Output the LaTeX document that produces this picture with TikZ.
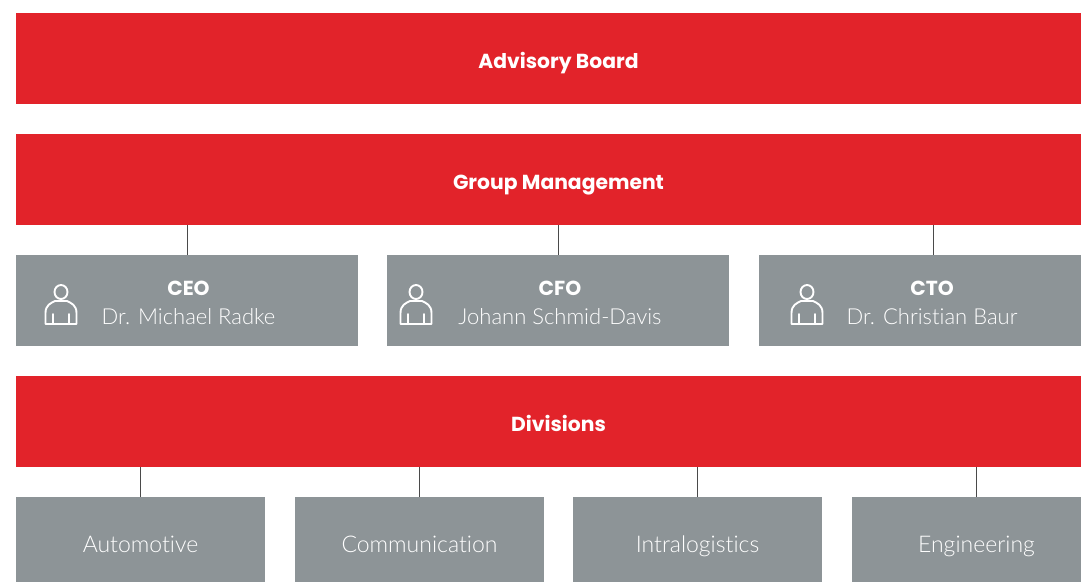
\documentclass[tikz,border=0pt]{standalone}
\usepackage{fontspec}
\setmainfont{Lato Light}[BoldFont={Lato},Ligatures=NoCommon]
\newfontfamily\headfont{Poppins}
\definecolor{redbar}{HTML}{E2232A}
\definecolor{greybox}{HTML}{8D9497}
\definecolor{linkcol}{HTML}{4A4A4A}
\tikzset{
  x=1pt,y=-1pt,
  redbar/.style={fill=redbar,text=white,minimum width=1085pt,minimum height=91pt,inner sep=0pt,text height=20pt,text depth=0pt,font=\headfont\bfseries\fontsize{20.3}{25}\selectfont},
  greybase/.style={fill=greybox,text=white,inner sep=0pt,minimum height=91pt,font=\fontsize{23}{29}\selectfont},
  exec/.style={greybase,minimum width=342pt,align=center},
  divbox/.style={greybase,minimum width=249pt,text height=20pt,text depth=0pt},
  exectxt/.style={text=white,align=center,font=\fontsize{22}{29.5}\selectfont},
  link/.style={draw=linkcol,line width=1pt},
  iconline/.style={draw=white,line width=1.9pt,line join=round,line cap=round},
  person/.pic={
    \draw[iconline] (0,-13) circle (6.5 and 7);
    \draw[iconline] (-15.5,19) -- (-15.5,8) .. controls (-15.5,0) and (-10,-2) .. (-6,-4) -- (6,-4) .. controls (10,-2) and (15.5,0) .. (15.5,8) -- (15.5,19) -- cycle;
    \draw[iconline] (-8,19) -- (-8,9) (8,19) -- (8,9);
  }
}
\newcommand{\exectext}[2]{{\headfont\bfseries\fontsize{20.3}{29.5}\selectfont #1\hspace{5pt}}\\{\color{white}#2}}
\begin{document}
\begin{tikzpicture}
\useasboundingbox (0,0) rectangle (1081,581);
\clip (0,0) rectangle (1081,581);
\node[redbar] (ab) at (558.5,58.5) {Advisory Board};
\node[redbar] (gm) at (558.5,179.5) {Group Management};
\node[redbar] (dv) at (558.5,421.5) {Divisions};
\node[exec] (ceo) at (187,300.5) {};
\node[exec] (cfo) at (558,300.5) {};
\node[exec] (cto) at (930,300.5) {};
\node[exectxt] (ceot) at (188.5,303) {\exectext{CEO}{Dr. Michael Radke}};
\node[exectxt] (cfot) at (560,303) {\exectext{CFO}{Johann Schmid-Davis}};
\node[exectxt] (ctot) at (932,303) {\exectext{CTO}{Dr. Christian Baur}};
\pic at (61,305) {person};
\pic at (416,305) {person};
\pic at (807,305) {person};
\node[divbox] (d1) at (140.5,542.5) {Automotive};
\node[divbox] (d2) at (419.5,542.5) {Communication};
\node[divbox] (d3) at (697.5,542.5) {Intralogistics};
\node[divbox] (d4) at (976.5,542.5) {Engineering};
\coordinate (ctotop) at (933,255);
\draw[link] (gm.south -| ceo.north) -- (ceo.north);
\draw[link] (gm.south -| cfo.north) -- (cfo.north);
\draw[link] (gm.south -| ctotop) -- (ctotop);
\draw[link] (dv.south -| d1.north) -- (d1.north);
\draw[link] (dv.south -| d2.north) -- (d2.north);
\draw[link] (dv.south -| d3.north) -- (d3.north);
\draw[link] (dv.south -| d4.north) -- (d4.north);
\end{tikzpicture}
\end{document}
